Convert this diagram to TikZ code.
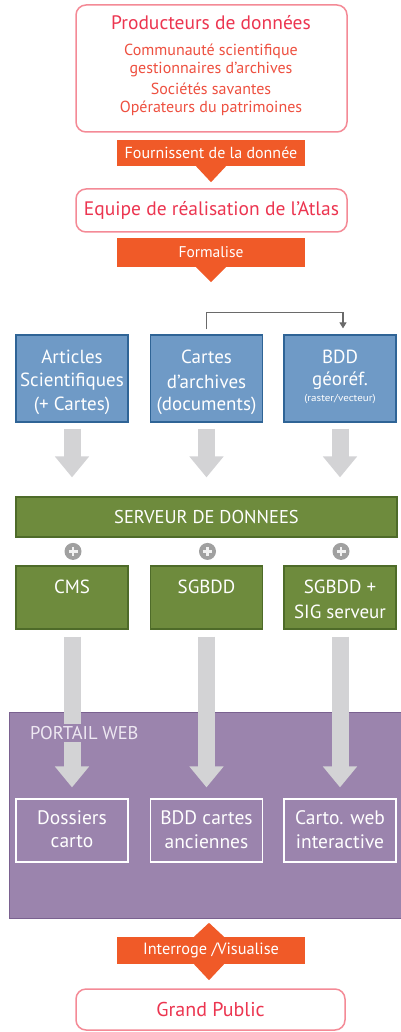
\documentclass[tikz,border=0pt]{standalone}
\usepackage{fontspec}
\setmainfont{PT Sans}
\usetikzlibrary{arrows.meta,calc}
\definecolor{redtxt}{HTML}{EC3550}
\definecolor{subtxt}{HTML}{EE5040}
\definecolor{redline}{HTML}{F48A96}
\definecolor{orangeband}{HTML}{F05A28}
\definecolor{bluefill}{HTML}{6F9AC6}
\definecolor{blueline}{HTML}{2F6496}
\definecolor{greenfill}{HTML}{6E8B3D}
\definecolor{greenline}{HTML}{4E6B29}
\definecolor{purplefill}{HTML}{9B84AD}
\definecolor{purpleline}{HTML}{7A6190}
\definecolor{purpletxt}{HTML}{EEE8F2}
\definecolor{arrowgray}{HTML}{D3D3D5}
\definecolor{plusgray}{HTML}{A0A0A0}
\definecolor{linkgray}{HTML}{6A6A6A}
\begin{document}
\begin{tikzpicture}[x=1pt,y=-1pt,
  fs/.style={font=\fontsize{#1}{#1}\selectfont},
  txt/.style={inner sep=0pt,align=center},
  roundbox/.style={draw=redline,line width=1.5pt,rounded corners=10pt,fill=white,inner sep=0pt},
  band/.style={fill=orangeband,inner sep=0pt,text=white,minimum width=188pt},
  bluebox/.style={draw=blueline,fill=bluefill,line width=1.2pt,minimum width=112pt,minimum height=87pt,inner sep=0pt},
  greenbox/.style={draw=greenline,fill=greenfill,line width=1.2pt,minimum width=112pt,minimum height=63pt,inner sep=0pt},
  webbox/.style={draw=white,line width=1.2pt,minimum width=112pt,minimum height=63pt,inner sep=0pt},
  bigarrow/.style={draw=arrowgray,line width=17pt,-{Triangle[width=33pt,length=21pt]}},
  plus/.style={circle,fill=plusgray,minimum size=17pt,inner sep=0pt},
  link/.style={draw=linkgray,line width=1.1pt,-{Triangle[width=7pt,length=6pt]}}
]
\useasboundingbox (0,0) rectangle (400,1032);

% --- producers
\node[roundbox,minimum width=271pt,minimum height=127pt] (prod) at (211.5,68.5) {};
\node[txt,fs=19.5,text=redtxt] (prodt) at (211,23) {Producteurs de données};
\node[txt,fs=16,text=subtxt] (s1) at (211,51) {Communauté scientifique};
\node[txt,fs=16,text=subtxt] (s2) at (211,70) {gestionnaires d'archives};
\node[txt,fs=16,text=subtxt] (s3) at (211,89) {Sociétés savantes};
\node[txt,fs=16,text=subtxt] (s4) at (211,108) {Opérateurs du patrimoines};

\node[band,minimum height=26pt,fs=16] (f1) at (211,153) {Fournissent de la donnée};
\fill[orangeband] ($(f1.south)+(-15,0)$) -- ($(f1.south)+(15,0)$) -- ($(f1.south)+(0,16)$) -- cycle;

% --- atlas team
\node[roundbox,minimum width=271pt,minimum height=43pt,fs=19.5,text=redtxt] (team) at (211.5,210.5) {Equipe de réalisation de l'Atlas};

\node[band,minimum height=29pt,fs=15.5] (f2) at (211,252.5) {Formalise};
\fill[orangeband] ($(f2.south)+(-15,0)$) -- ($(f2.south)+(15,0)$) -- ($(f2.south)+(0,15)$) -- cycle;

% --- sources
\node[bluebox] (b1) at (72,378.5) {};
\node[bluebox] (b2) at (206.5,378.5) {};
\node[bluebox] (b3) at (340,378.5) {};
\node[txt,fs=19,text=white] (b1a) at (72,357) {Articles};
\node[txt,fs=19,text=white] (b1b) at (72,382) {Scientifiques};
\node[txt,fs=19,text=white] (b1c) at (72,406) {(+ Cartes)};
\node[txt,fs=19,text=white] (b2a) at (206.5,357) {Cartes};
\node[txt,fs=19,text=white] (b2b) at (206.5,382) {d'archives};
\node[txt,fs=19,text=white] (b2c) at (206.5,406) {(documents)};
\node[txt,fs=19,text=white] (b3a) at (340,357) {BDD};
\node[txt,fs=19,text=white] (b3b) at (340,381) {géoréf.};
\node[txt,fs=10,text=white,xscale=1.1] (b3c) at (340,399) {(raster/vecteur)};

\draw[link] ($(b2.north)+(0,-5)$) -- ++(0,-17) -| ($(b3.north)+(3,-6)$);

% --- data server
\node[draw=greenline,fill=greenfill,line width=1.2pt,minimum width=381pt,minimum height=40pt,inner sep=0pt,fs=18.5,text=white] (srv) at (206.5,517) {SERVEUR DE DONNEES};

\draw[bigarrow] ($(b1.south)+(0,6)$) -- ($(b1.south |- srv.north)+(0,-19)$);
\draw[bigarrow] ($(b2.south)+(0,6)$) -- ($(b2.south |- srv.north)+(0,-19)$);
\draw[bigarrow] ($(b3.south)+(0,6)$) -- ($(b3.south |- srv.north)+(0,-19)$);

\node[greenbox] (g1) at (72,597.5) {};
\node[greenbox] (g2) at (206.5,597.5) {};
\node[greenbox] (g3) at (340,597.5) {};
\node[txt,fs=19,text=white] (g1t) at (72,587) {CMS};
\node[txt,fs=19,text=white] (g2t) at (206.5,587) {SGBDD};
\node[txt,fs=19,text=white] (g3a) at (340,587) {SGBDD +};
\node[txt,fs=19,text=white] (g3b) at (340,612) {SIG serveur};

\foreach \n/\g in {p1/g1,p2/g2,p3/g3}{
  \node[plus] (\n) at ($(\g.north)+(1,-14)$) {};
  \draw[white!85!plusgray,line width=2.6pt] ($(\n.center)+(-4.5,0)$) -- ($(\n.center)+(4.5,0)$)
        ($(\n.center)+(0,-4.5)$) -- ($(\n.center)+(0,4.5)$);
}

% --- web portal
\node[draw=purpleline,fill=purplefill,line width=1.2pt,minimum width=400pt,minimum height=206pt,inner sep=0pt,anchor=north west] (web) at (9,712) {};

\node[webbox] (w1) at (72,830.5) {};
\node[webbox] (w2) at (206.5,830.5) {};
\node[webbox] (w3) at (340,830.5) {};

\draw[bigarrow] ($(g1.south)+(0,7)$) -- ($(w1.north)+(0,-11)$);
\draw[bigarrow] ($(g2.south)+(0,7)$) -- ($(w2.north)+(0,-11)$);
\draw[bigarrow] ($(g3.south)+(0,7)$) -- ($(w3.north)+(0,-11)$);

\node[fill=purplefill,inner sep=2pt,fs=18.5,text=purpletxt,anchor=west] (webt) at (28,733) {PORTAIL WEB};

\node[txt,fs=19.5,text=white] (w1a) at (72,818) {Dossiers};
\node[txt,fs=19.5,text=white] (w1b) at (72,842) {carto};
\node[txt,fs=19.5,text=white] (w2a) at (206.5,818) {BDD cartes};
\node[txt,fs=19.5,text=white] (w2b) at (206.5,842) {anciennes};
\node[txt,fs=19.5,text=white] (w3a) at (340,818) {Carto. web};
\node[txt,fs=19.5,text=white] (w3b) at (340,842) {interactive};

% --- public access
\node[band,minimum height=27pt,fs=16.3] (iv) at (211,950.5) {Interroge /Visualise};
\fill[orangeband] ($(iv.north)+(-17,0)$) -- ($(iv.north)+(13,0)$) -- ($(iv.north)+(-2,-14)$) -- cycle;
\fill[orangeband] ($(iv.south)+(-17,0)$) -- ($(iv.south)+(13,0)$) -- ($(iv.south)+(-2,16)$) -- cycle;

\node[roundbox,minimum width=269pt,minimum height=41pt,fs=20,text=redtxt] (gp) at (210.5,1009.5) {Grand Public};
\end{tikzpicture}
\end{document}
